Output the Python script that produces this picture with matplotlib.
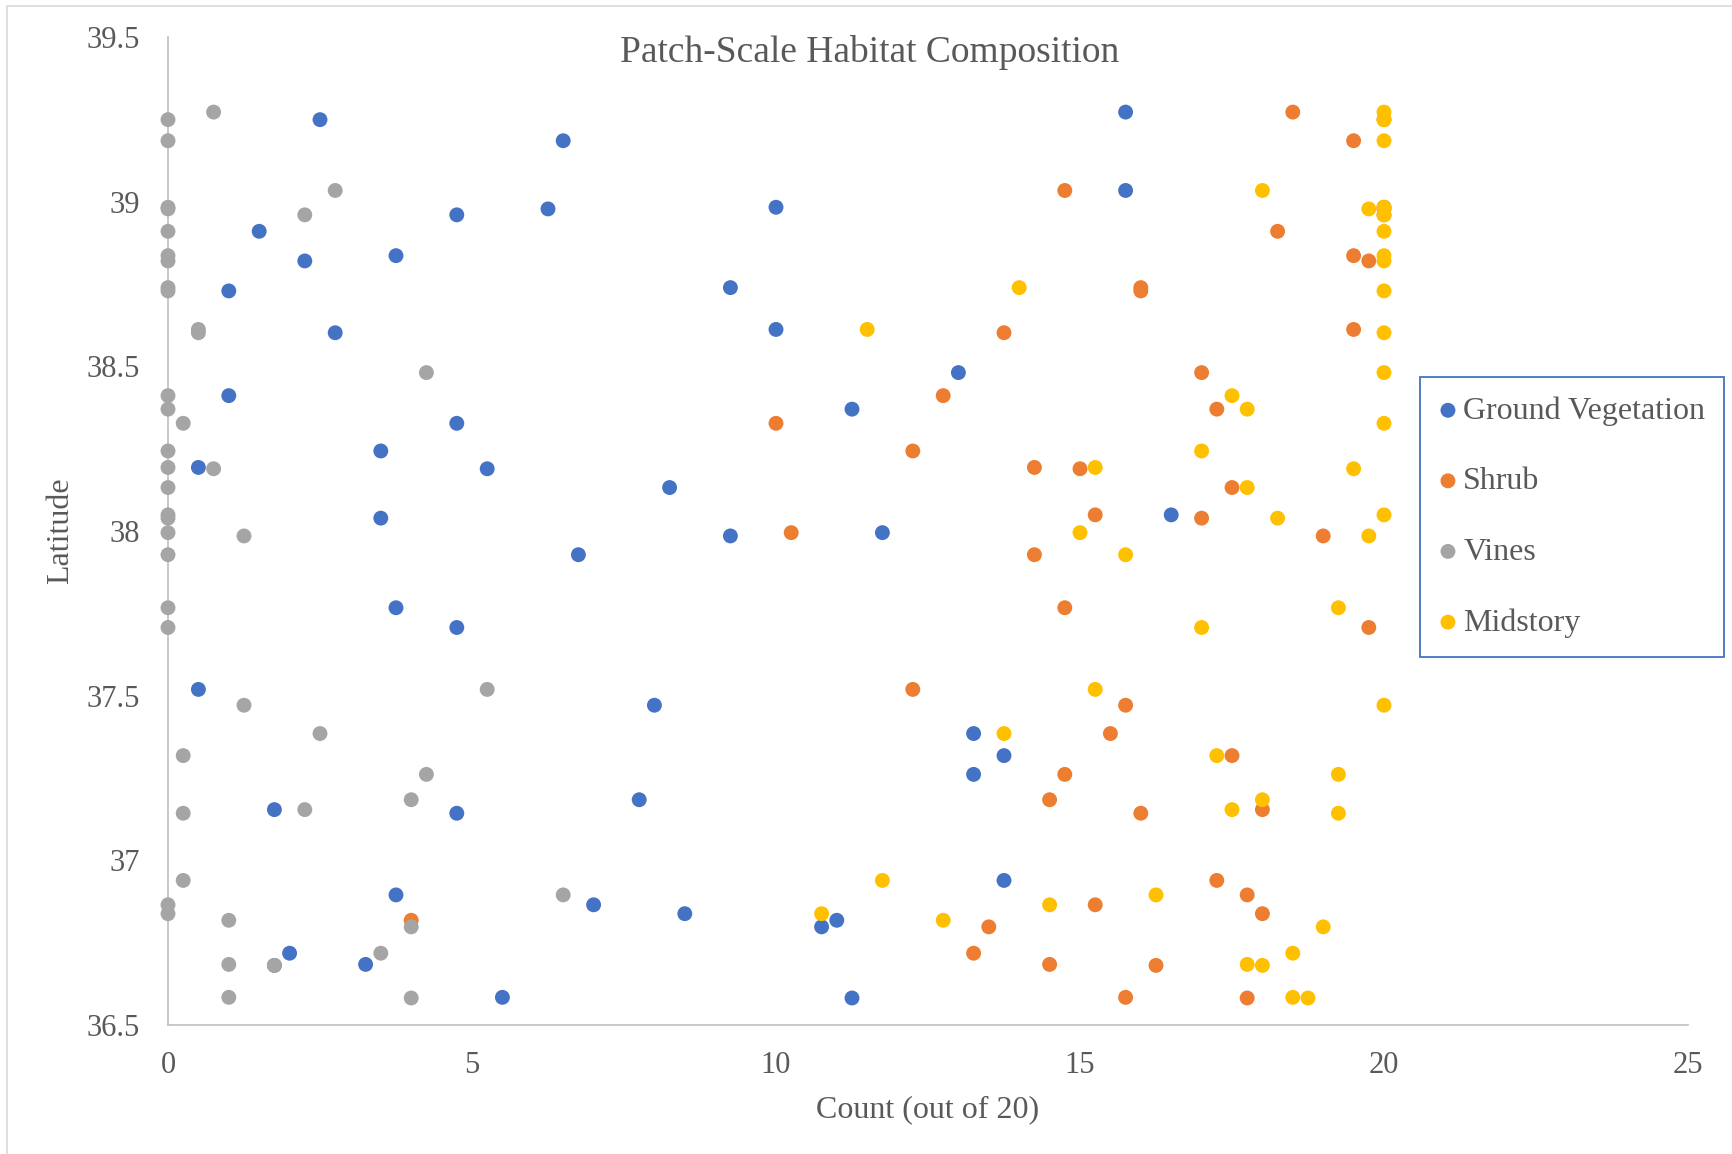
import matplotlib.pyplot as plt
from matplotlib.patches import Rectangle

W, H = 1732, 1154

# one entry per site (latitude), counts out of 20
latitude = [39.272, 39.249, 39.185, 39.034, 38.983, 38.978, 38.960, 38.910,
            38.836, 38.820, 38.739, 38.729, 38.612, 38.602, 38.481, 38.411,
            38.370, 38.327, 38.243, 38.193, 38.189, 38.132, 38.049, 38.039,
            37.995, 37.985, 37.928, 37.767, 37.707, 37.519, 37.471, 37.385,
            37.318, 37.261, 37.184, 37.154, 37.143, 36.939, 36.895, 36.865,
            36.838, 36.818, 36.798, 36.718, 36.684, 36.681, 36.584, 36.582]

ground_veg = [15.75, 2.5, 6.5, 15.75, 10, 6.25, 4.75, 1.5,
              3.75, 2.25, 9.25, 1, 10, 2.75, 13, 1,
              11.25, 4.75, 3.5, 0.5, 5.25, 8.25, 16.5, 3.5,
              11.75, 9.25, 6.75, 3.75, 4.75, 0.5, 8, 13.25,
              13.75, 13.25, 7.75, 1.75, 4.75, 13.75, 3.75, 7,
              8.5, 11, 10.75, 2, 3.25, 1.75, 5.5, 11.25]

shrub = [18.5, 20, 19.5, 14.75, 20, 20, 20, 18.25,
         19.5, 19.75, 16, 16, 19.5, 13.75, 17, 12.75,
         17.25, 10, 12.25, 14.25, 15, 17.5, 15.25, 17,
         10.25, 19, 14.25, 14.75, 19.75, 12.25, 15.75, 15.5,
         17.5, 14.75, 14.5, 18, 16, 17.25, 17.75, 15.25,
         18, 4, 13.5, 13.25, 14.5, 16.25, 15.75, 17.75]

vines = [0.75, 0, 0, 2.75, 0, 0, 2.25, 0,
         0, 0, 0, 0, 0.5, 0.5, 4.25, 0,
         0, 0.25, 0, 0, 0.75, 0, 0, 0,
         0, 1.25, 0, 0, 0, 5.25, 1.25, 2.5,
         0.25, 4.25, 4, 2.25, 0.25, 0.25, 6.5, 0,
         0, 1, 4, 3.5, 1, 1.75, 1, 4]

midstory = [20, 20, 20, 18, 20, 19.75, 20, 20,
            20, 20, 14, 20, 11.5, 20, 20, 17.5,
            17.75, 20, 17, 15.25, 19.5, 17.75, 20, 18.25,
            15, 19.75, 15.75, 19.25, 17, 15.25, 20, 13.75,
            17.25, 19.25, 18, 17.5, 19.25, 11.75, 16.25, 14.5,
            10.75, 12.75, 19, 18.5, 17.75, 18, 18.5, 18.75]

series = [("Ground Vegetation", ground_veg, "#4472C4"),
          ("Shrub", shrub, "#ED7D31"),
          ("Vines", vines, "#A5A5A5"),
          ("Midstory", midstory, "#FFC000")]

TEXT = "#595959"
plt.rcParams['font.family'] = ['Liberation Serif', 'DejaVu Serif']

fig = plt.figure(figsize=(W / 100, H / 100), dpi=100)
ax = fig.add_axes([168 / W, 1 - 1025 / H, (1688 - 168) / W, (1025 - 37) / H])

for name, vals, col in series:
    ax.scatter(vals, latitude, s=115, color=col, edgecolors="none",
               label=name, zorder=3, clip_on=False)

ax.set_xlim(0, 25)
ax.set_ylim(36.5, 39.5)
ax.set_xticks([0, 5, 10, 15, 20, 25])
ax.set_yticks([36.5, 37, 37.5, 38, 38.5, 39, 39.5])
ax.set_yticklabels(["36.5", "37", "37.5", "38", "38.5", "39", "39.5"])
ax.tick_params(length=0, labelsize=22, labelcolor=TEXT)
ax.tick_params(axis="y", pad=20)
ax.tick_params(axis="x", pad=19)

for s in ["top", "right"]:
    ax.spines[s].set_visible(False)
for s in ["left", "bottom"]:
    ax.spines[s].set_color("#BFBFBF")
    ax.spines[s].set_linewidth(1.2)

ax.set_xlabel("Count (out of 20)", fontsize=23, color=TEXT)
ax.xaxis.set_label_coords(0.5, (1025 - 1110) / (1025 - 37))
ax.xaxis.label.set_va("center")
ax.set_ylabel("Latitude", fontsize=23, color=TEXT)
ax.yaxis.set_label_coords((61 - 168) / (1688 - 168), 0.5)
ax.yaxis.label.set_va("center")

fig.text(870 / W, 1 - 52 / H, "Patch-Scale Habitat Composition",
         ha="center", va="center", fontsize=27, color=TEXT)

leg = ax.legend(loc="upper left", bbox_to_anchor=(1420 / W, 1 - 377 / H),
                bbox_transform=fig.transFigure, fontsize=23, frameon=True,
                fancybox=False, framealpha=1, borderpad=0.6,
                borderaxespad=0, labelspacing=1.29, handlelength=0.55,
                handletextpad=0.2, scatterpoints=1)
leg.get_frame().set_edgecolor("#4472C4")
leg.get_frame().set_linewidth(1.3)
for t in leg.get_texts():
    t.set_color(TEXT)

# chart area border
fig.patches.append(Rectangle((7 / W, -0.2), 2, 1.2 - 6 / H, fill=False,
                             edgecolor="#D9D9D9", linewidth=1.2,
                             transform=fig.transFigure, figure=fig))

fig.savefig("out.png", dpi=100)
